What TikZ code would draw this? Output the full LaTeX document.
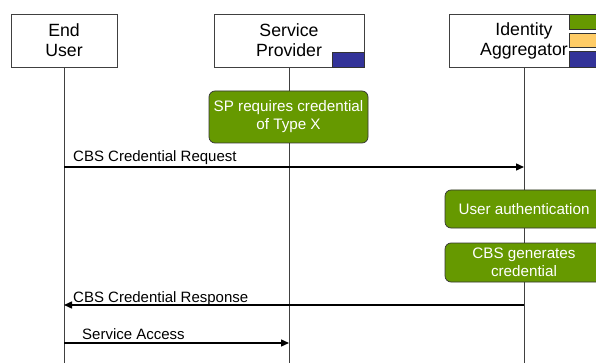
\documentclass[tikz,border=0pt]{standalone}
\usepackage{fontspec}
\setmainfont{Liberation Sans}
\usetikzlibrary{arrows.meta}
\definecolor{sgreen}{HTML}{669900}
\definecolor{syellow}{HTML}{FFCC66}
\definecolor{sblue}{HTML}{333399}
\begin{document}
\begin{tikzpicture}[x=1pt,y=-1pt,
  font=\fontsize{15}{18}\selectfont,
  actor/.style={draw=black!75, line width=0.8pt, fill=white, minimum height=53pt, align=center, inner sep=0pt, font=\fontsize{17.7}{20}\selectfont},
  lifeline/.style={draw=black!75, line width=0.8pt},
  action/.style={draw=black!80, line width=0.7pt, fill=sgreen, rounded corners=6pt, text=white, align=center, inner sep=0pt, font=\fontsize{15.2}{18}\selectfont},
  tag/.style={draw=black!80, line width=0.5pt},
  msg/.style={draw=black, line width=1.4pt, -{Triangle[length=8pt,width=7pt]}},
  msglabel/.style={anchor=base west, inner sep=0pt}]
\useasboundingbox (0,0) rectangle (596,363);
\clip (0,0) rectangle (596,363);
% actors
\node[actor, minimum width=106pt] (eu) at (64,40.5) {End\\User};
\node[actor, minimum width=150pt] (sp) at (289,40.5) {Service\\Provider};
\node[actor, minimum width=150pt] (ia) at (524,40.5) {Identity\\Aggregator};
\filldraw[tag, fill=sblue] (332,52) rectangle (364,67);
\filldraw[tag, fill=sgreen] (569,14) rectangle (600,29);
\filldraw[tag, fill=syellow] (569,33) rectangle (600,47);
\filldraw[tag, fill=sblue] (569,51) rectangle (600,67);
% lifeline ends
\coordinate (euend) at (64,363);
\coordinate (spend) at (289,363);
\coordinate (iaend) at (524,363);
\draw[lifeline] (eu.south) -- (euend);
\draw[lifeline] (sp.south) -- (spend);
\draw[lifeline] (ia.south) -- (iaend);
% actions
\node[action, minimum width=159pt, minimum height=52pt] (a1) at (288.5,117) {SP requires credential\\of Type X};
\node[action, minimum width=158pt, minimum height=38pt] (a2) at (524,209) {User authentication};
\node[action, minimum width=158pt, minimum height=39pt] (a3) at (524,262.5) {CBS generates\\credential};
% message endpoints
\coordinate (m1s) at (64,167);
\coordinate (m1e) at (524,167);
\coordinate (m2s) at (524,305);
\coordinate (m2e) at (64,305);
\coordinate (m3s) at (64,343);
\coordinate (m3e) at (289,343);
\draw[msg] (m1s) -- (m1e);
\draw[msg] (m2s) -- (m2e);
\draw[msg] (m3s) -- (m3e);
\node[msglabel] (l1) at (73,162) {CBS Credential Request};
\node[msglabel] (l2) at (73,302) {CBS Credential Response};
\node[msglabel] (l3) at (82,339) {Service Access};
\end{tikzpicture}
\end{document}
